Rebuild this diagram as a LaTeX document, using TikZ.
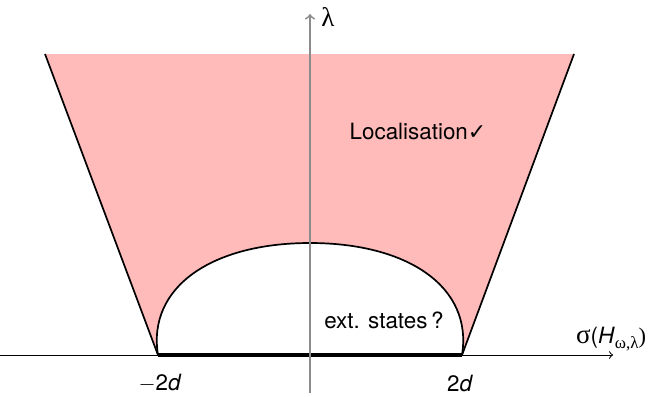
\documentclass[tikz,border=0pt]{standalone}
\usepackage{fontspec}
\setmainfont{TeX Gyre Heros}
\newfontfamily\grk{Liberation Serif}
\newfontfamily\sym{DejaVu Sans}
\begin{document}
\begin{tikzpicture}[x=0.5pt,y=-0.5pt,
  lbl/.style={font=\fontsize{11.2}{13}\selectfont, inner sep=0pt},
  edge/.style={line width=0.85pt, line join=round},
  pinkfill/.style={fill=red!27}]
\useasboundingbox (0,0) rectangle (656,396);
\coordinate (tl) at (45,54);
\coordinate (tr) at (574,54);
\coordinate (bl) at (158,355);
\coordinate (br) at (462,355);
\coordinate (top) at (310,243);
\coordinate (xs) at (0,355);
\coordinate (xe) at (613,355);
\coordinate (ys) at (310,393);
\coordinate (ye) at (310,14);
% pink region
\fill[pinkfill] (tl) -- (tr) -- (br) -- (bl) -- cycle;
% white dome
\fill[white] (bl) .. controls (147,287) and (212,243) .. (top)
  .. controls (408,243) and (473,287) .. (br) -- cycle;
\draw[edge] (bl) .. controls (147,287) and (212,243) .. (top)
  .. controls (408,243) and (473,287) .. (br);
\draw[edge] (tl) -- (bl);
\draw[edge] (tr) -- (br);
% axes
\draw[line width=0.5pt,->] (xs) -- (xe);
\draw[line width=2pt] (bl) -- (br);
\draw[gray!90, line width=0.9pt,->] (ys) -- (ye);
% labels
\node[lbl] (lam) at (328,17) {\grk\fontsize{13.5}{15}\selectfont λ};
\node[lbl] (sig) at (611,339) {{\grk\fontsize{13.5}{15}\selectfont σ}(\textit{H}\raisebox{-0.4ex}{\fontsize{8.5}{9}\selectfont\grk ω,λ}{\grk )}};
\node[lbl] (m2d) at (160,383) {$-$2\textit{d}};
\node[lbl] (p2d) at (460,383) {2\textit{d}};
\node[lbl] (loc) at (418,131) {Localisation{\sym\fontsize{11}{12}\selectfont ✓}};
\node[lbl] (ext) at (384,320) {ext. states\,?};
\end{tikzpicture}
\end{document}
